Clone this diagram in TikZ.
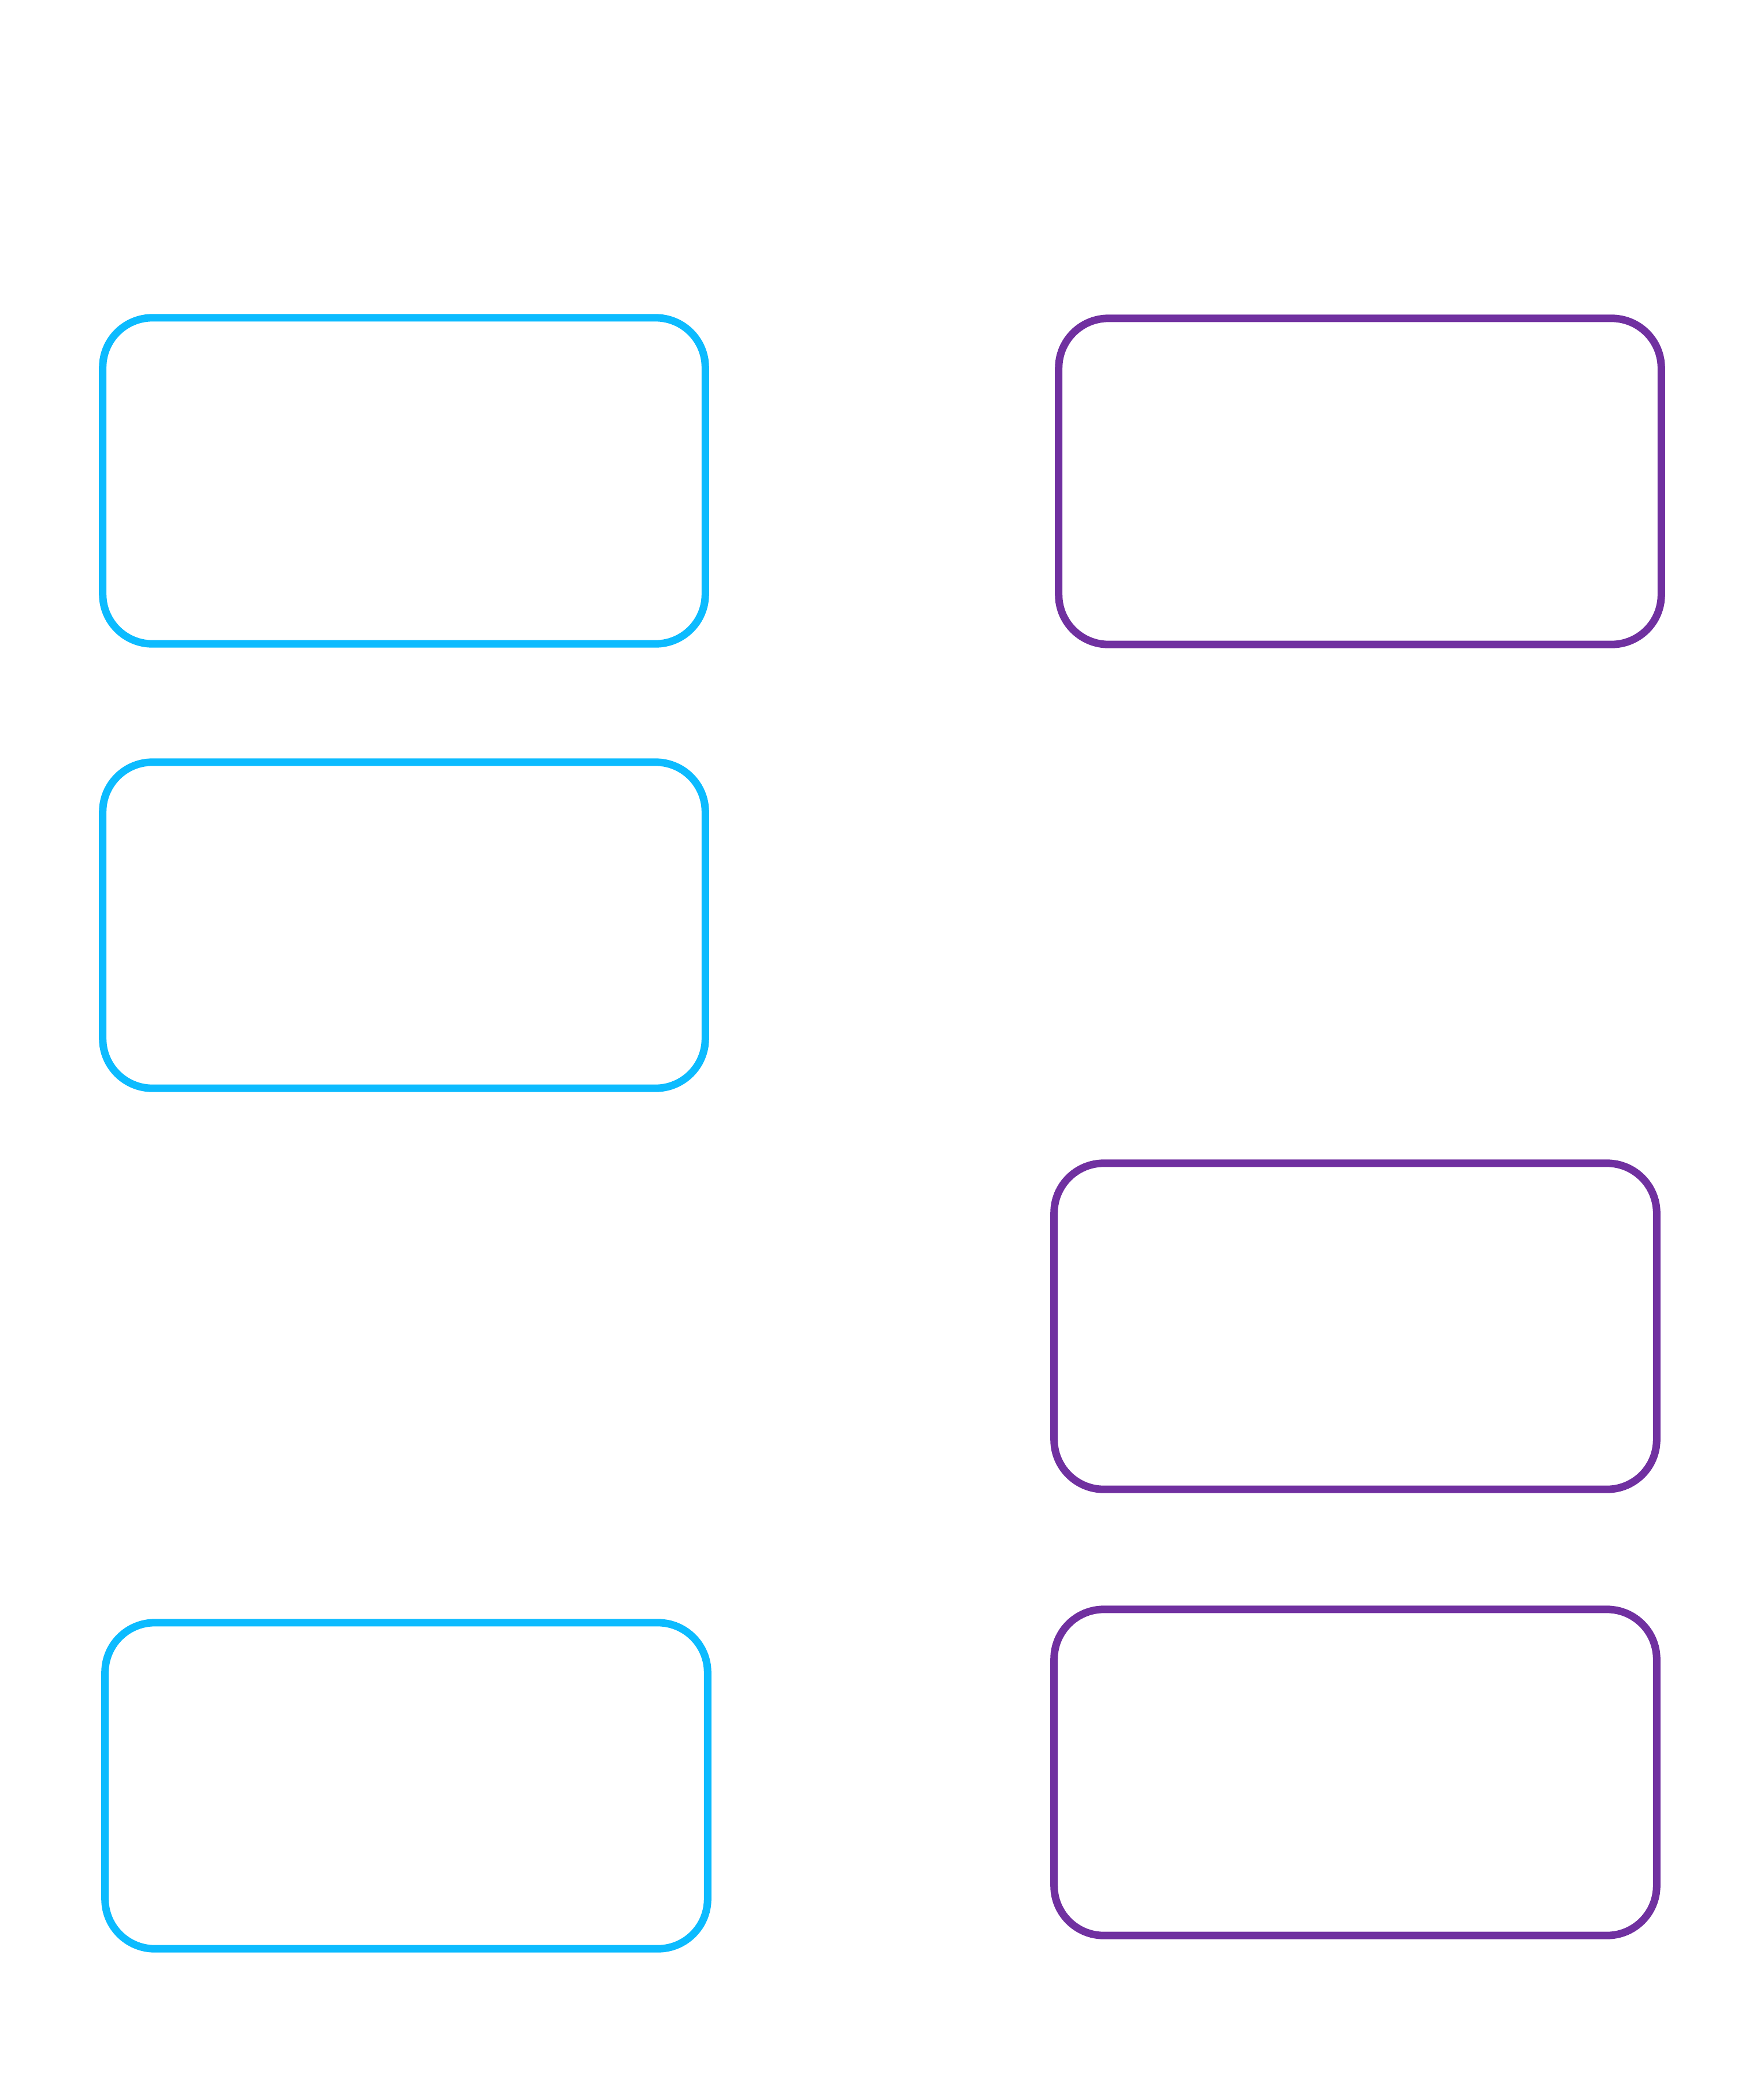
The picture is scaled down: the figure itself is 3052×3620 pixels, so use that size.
\documentclass[tikz,border=0pt]{standalone}
\definecolor{boxcyan}{RGB}{12,187,255}
\definecolor{boxpurple}{RGB}{112,48,160}
\begin{document}
\begin{tikzpicture}[x=0.01cm,y=-0.01cm,
  card/.style={draw, line width=0.13cm, rounded corners=0.86cm, minimum width=10.42cm, minimum height=5.64cm, inner sep=0pt, fill=none},
  cyancard/.style={card, draw=boxcyan},
  purplecard/.style={card, draw=boxpurple}]
\useasboundingbox (0,0) rectangle (3052,3620);
\node[cyancard] (b1) at (699,832) {};
\node[cyancard] (b2) at (699,1601) {};
\node[cyancard] (b3) at (703,3090) {};
\node[purplecard] (b4) at (2353,833) {};
\node[purplecard] (b5) at (2345,2295) {};
\node[purplecard] (b6) at (2345,3067) {};
\end{tikzpicture}
\end{document}
